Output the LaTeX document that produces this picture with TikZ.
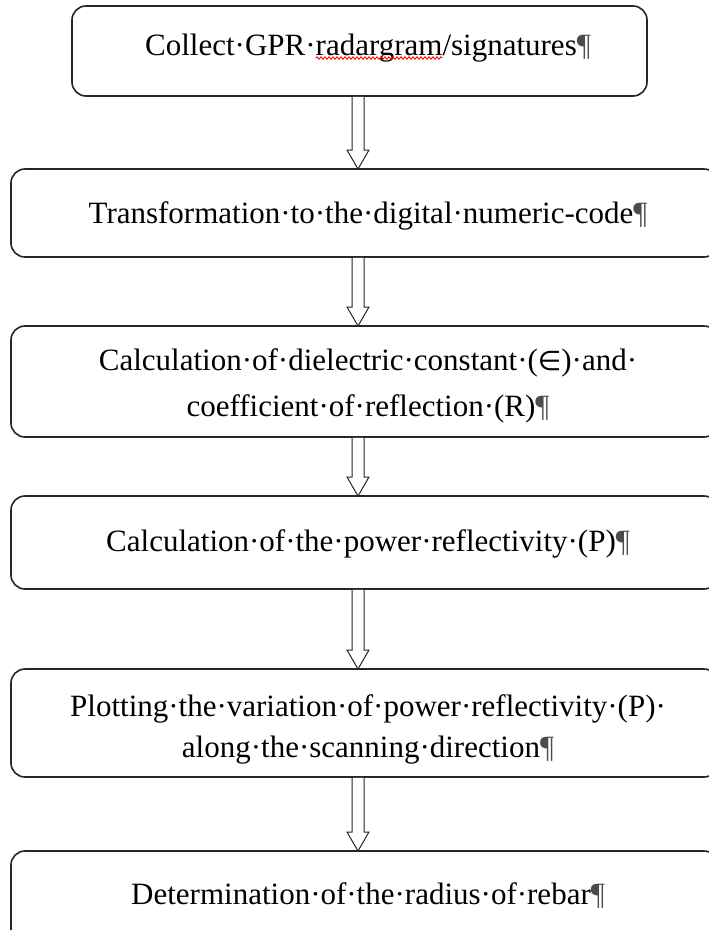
\documentclass[tikz,border=0pt]{standalone}
\usepackage{fontspec}
\setmainfont{Liberation Serif}[Ligatures=CommonOff]
\newfontfamily\dejavu{DejaVu Sans}
\usetikzlibrary{calc,decorations.pathmorphing}
\newlength\wpre
\newlength\wword
\newcommand\fs{\fontsize{31}{43}\selectfont}
\newcommand\pil{{\color{black!70}¶}}
\tikzset{
  box/.style={draw=black!85, line width=1.6pt, rounded corners=14pt, fill=white, inner sep=0pt, outer sep=0pt},
  txt/.style={inner sep=0pt, outer sep=0pt, font=\fs, anchor=base},
  barrow/.style={draw=black!85, line width=1pt, fill=white, line join=miter},
  squig/.style={draw=red, line width=0.9pt, decorate, decoration={snake, amplitude=1.2pt, segment length=4pt}},
}
\newcommand\blockarrow[2]{%
  \draw[barrow] let \p1=(#1.south), \p2=(#2.north) in
    (352pt,\y1-0.8pt) -- (352pt,\y2+19pt) -- (347pt,\y2+19pt) -- (358pt,\y2)
    -- (369pt,\y2+19pt) -- (364pt,\y2+19pt) -- (364pt,\y1-0.8pt);}
\begin{document}
\settowidth\wpre{\fs Collect·GPR·}%
\settowidth\wword{\fs radargram}%
\begin{tikzpicture}[x=1pt,y=1pt]
\useasboundingbox (0,0) rectangle (709,-930);
\fill[white] (0,0) rectangle (709,-930);
\clip (0,0) rectangle (709,-930);
% boxes
\node[box, minimum width=575pt, minimum height=90pt]  (b1) at (359.5,-51) {};
\node[box, minimum width=707pt, minimum height=88pt]  (b2) at (364.5,-213) {};
\node[box, minimum width=707pt, minimum height=111pt] (b3) at (364.5,-381.5) {};
\node[box, minimum width=707pt, minimum height=93pt]  (b4) at (364.5,-542.5) {};
\node[box, minimum width=707pt, minimum height=108pt] (b5) at (364.5,-723) {};
\node[box, minimum width=707pt, minimum height=110pt] (b6) at (364.5,-906) {};
% texts
\node[txt] (t1)  at (368,-55)  {Collect·GPR·radargram/signatures\pil};
\node[txt] (t2)  at (368,-223) {Transformation·to·the·digital·numeric-code\pil};
\node[txt] (t3a) at (368,-370) {Calculation·of·dielectric·constant·({\dejavu\fontsize{27}{43}\selectfont ∈})·and·};
\node[txt] (t3b) at (368,-416) {coefficient·of·reflection·(R)\pil};
\node[txt] (t4)  at (368,-551) {Calculation·of·the·power·reflectivity·(P)\pil};
\node[txt] (t5a) at (368,-716) {Plotting·the·variation·of·power·reflectivity·(P)·};
\node[txt] (t5b) at (368,-757) {along·the·scanning·direction\pil};
\node[txt] (t6)  at (368,-904) {Determination·of·the·radius·of·rebar\pil};
% spelling squiggle
\draw[squig] ([xshift=\wpre,yshift=-3pt]t1.base west) -- ++(\wword,0pt);
% arrows
\blockarrow{b1}{b2}
\blockarrow{b2}{b3}
\blockarrow{b3}{b4}
\blockarrow{b4}{b5}
\blockarrow{b5}{b6}
\end{tikzpicture}
\end{document}
